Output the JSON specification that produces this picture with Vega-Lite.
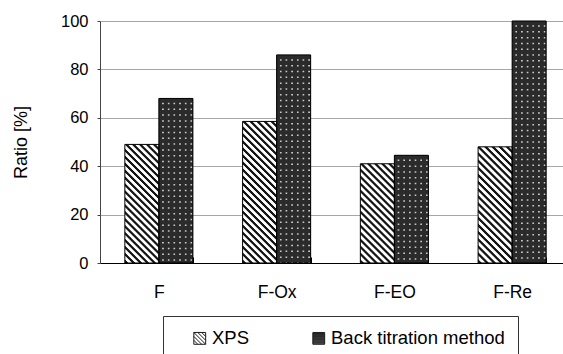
{
  "$schema": "https://vega.github.io/schema/vega-lite/v6.json",
  "autosize": {"type": "none"},
  "width": 463,
  "height": 242,
  "padding": {"left": 100, "top": 21, "right": 0, "bottom": 91},
  "background": "#ffffff",
  "config": {"font": "Liberation Sans", "view": {"stroke": null}},
  "data": {
    "values": [
      {"sample": "F", "method": "XPS", "ratio": 49},
      {"sample": "F", "method": "Back titration method", "ratio": 68},
      {"sample": "F-Ox", "method": "XPS", "ratio": 58.5},
      {"sample": "F-Ox", "method": "Back titration method", "ratio": 86},
      {"sample": "F-EO", "method": "XPS", "ratio": 41},
      {"sample": "F-EO", "method": "Back titration method", "ratio": 44.5},
      {"sample": "F-Re", "method": "XPS", "ratio": 48},
      {"sample": "F-Re", "method": "Back titration method", "ratio": 100}
    ]
  },
  "encoding": {
    "x": {
      "field": "sample", "type": "nominal", "sort": ["F", "F-Ox", "F-EO", "F-Re"],
      "scale": {"range": [0, 471], "paddingInner": 0.4222, "paddingOuter": 0.2111},
      "axis": {"title": null, "labelAngle": 0, "tickBand": "extent", "tickSize": -6, "tickColor": "#000", "domainColor": "#000", "labelPadding": 26, "labelFontSize": 17.5, "labelColor": "#000", "grid": false}
    },
    "xOffset": {
      "field": "method", "type": "nominal",
      "scale": {"domain": ["XPS", "Back titration method"], "paddingInner": 0, "paddingOuter": 0}
    },
    "y": {
      "field": "ratio", "type": "quantitative",
      "scale": {"domain": [0, 100], "nice": false},
      "axis": {"values": [0, 20, 40, 60, 80, 100], "title": "Ratio [%]", "grid": true, "gridColor": "#a6a6a6", "domainColor": "#444", "tickColor": "#444", "tickSize": 3, "labelPadding": 9, "labelFontSize": 16.5, "labelColor": "#000", "titleFontSize": 18, "titleFontWeight": "normal", "titleColor": "#000", "titlePadding": 30}
    }
  },
  "layer": [
    {
      "mark": {"type": "bar"},
      "encoding": {
        "fill": {
          "condition": [
            {"test": "datum.method === 'XPS' && datum.sample === 'F'", "value": {"gradient": "linear", "x1": 0, "y1": 1, "x2": 0.3409, "y2": -0.189, "stops": [
              {"offset": 0, "color": "#fff"}, {"offset": 0.0068, "color": "#151515"}, {"offset": 0.0205, "color": "#151515"}, {"offset": 0.0273, "color": "#fff"},
              {"offset": 0.0455, "color": "#fff"}, {"offset": 0.0523, "color": "#151515"}, {"offset": 0.0659, "color": "#151515"}, {"offset": 0.0727, "color": "#fff"},
              {"offset": 0.0909, "color": "#fff"}, {"offset": 0.0977, "color": "#151515"}, {"offset": 0.1114, "color": "#151515"}, {"offset": 0.1182, "color": "#fff"},
              {"offset": 0.1364, "color": "#fff"}, {"offset": 0.1432, "color": "#151515"}, {"offset": 0.1568, "color": "#151515"}, {"offset": 0.1636, "color": "#fff"},
              {"offset": 0.1818, "color": "#fff"}, {"offset": 0.1886, "color": "#151515"}, {"offset": 0.2023, "color": "#151515"}, {"offset": 0.2091, "color": "#fff"},
              {"offset": 0.2273, "color": "#fff"}, {"offset": 0.2341, "color": "#151515"}, {"offset": 0.2477, "color": "#151515"}, {"offset": 0.2545, "color": "#fff"},
              {"offset": 0.2727, "color": "#fff"}, {"offset": 0.2795, "color": "#151515"}, {"offset": 0.2932, "color": "#151515"}, {"offset": 0.3, "color": "#fff"},
              {"offset": 0.3182, "color": "#fff"}, {"offset": 0.325, "color": "#151515"}, {"offset": 0.3386, "color": "#151515"}, {"offset": 0.3455, "color": "#fff"},
              {"offset": 0.3636, "color": "#fff"}, {"offset": 0.3705, "color": "#151515"}, {"offset": 0.3841, "color": "#151515"}, {"offset": 0.3909, "color": "#fff"},
              {"offset": 0.4091, "color": "#fff"}, {"offset": 0.4159, "color": "#151515"}, {"offset": 0.4295, "color": "#151515"}, {"offset": 0.4364, "color": "#fff"},
              {"offset": 0.4545, "color": "#fff"}, {"offset": 0.4614, "color": "#151515"}, {"offset": 0.475, "color": "#151515"}, {"offset": 0.4818, "color": "#fff"},
              {"offset": 0.5, "color": "#fff"}, {"offset": 0.5068, "color": "#151515"}, {"offset": 0.5205, "color": "#151515"}, {"offset": 0.5273, "color": "#fff"},
              {"offset": 0.5455, "color": "#fff"}, {"offset": 0.5523, "color": "#151515"}, {"offset": 0.5659, "color": "#151515"}, {"offset": 0.5727, "color": "#fff"},
              {"offset": 0.5909, "color": "#fff"}, {"offset": 0.5977, "color": "#151515"}, {"offset": 0.6114, "color": "#151515"}, {"offset": 0.6182, "color": "#fff"},
              {"offset": 0.6364, "color": "#fff"}, {"offset": 0.6432, "color": "#151515"}, {"offset": 0.6568, "color": "#151515"}, {"offset": 0.6636, "color": "#fff"},
              {"offset": 0.6818, "color": "#fff"}, {"offset": 0.6886, "color": "#151515"}, {"offset": 0.7023, "color": "#151515"}, {"offset": 0.7091, "color": "#fff"},
              {"offset": 0.7273, "color": "#fff"}, {"offset": 0.7341, "color": "#151515"}, {"offset": 0.7477, "color": "#151515"}, {"offset": 0.7545, "color": "#fff"},
              {"offset": 0.7727, "color": "#fff"}, {"offset": 0.7795, "color": "#151515"}, {"offset": 0.7932, "color": "#151515"}, {"offset": 0.8, "color": "#fff"},
              {"offset": 0.8182, "color": "#fff"}, {"offset": 0.825, "color": "#151515"}, {"offset": 0.8386, "color": "#151515"}, {"offset": 0.8455, "color": "#fff"},
              {"offset": 0.8636, "color": "#fff"}, {"offset": 0.8705, "color": "#151515"}, {"offset": 0.8841, "color": "#151515"}, {"offset": 0.8909, "color": "#fff"},
              {"offset": 0.9091, "color": "#fff"}, {"offset": 0.9159, "color": "#151515"}, {"offset": 0.9295, "color": "#151515"}, {"offset": 0.9364, "color": "#fff"},
              {"offset": 0.9545, "color": "#fff"}, {"offset": 0.9614, "color": "#151515"}, {"offset": 0.975, "color": "#151515"}, {"offset": 0.9818, "color": "#fff"},
              {"offset": 1, "color": "#fff"}
            ]}},
            {"test": "datum.method === 'XPS' && datum.sample === 'F-Ox'", "value": {"gradient": "linear", "x1": 0, "y1": 1, "x2": 0.2816, "y2": -0.1725, "stops": [
              {"offset": 0, "color": "#fff"}, {"offset": 0.006, "color": "#151515"}, {"offset": 0.018, "color": "#151515"}, {"offset": 0.024, "color": "#fff"},
              {"offset": 0.04, "color": "#fff"}, {"offset": 0.046, "color": "#151515"}, {"offset": 0.058, "color": "#151515"}, {"offset": 0.064, "color": "#fff"},
              {"offset": 0.08, "color": "#fff"}, {"offset": 0.086, "color": "#151515"}, {"offset": 0.098, "color": "#151515"}, {"offset": 0.104, "color": "#fff"},
              {"offset": 0.12, "color": "#fff"}, {"offset": 0.126, "color": "#151515"}, {"offset": 0.138, "color": "#151515"}, {"offset": 0.144, "color": "#fff"},
              {"offset": 0.16, "color": "#fff"}, {"offset": 0.166, "color": "#151515"}, {"offset": 0.178, "color": "#151515"}, {"offset": 0.184, "color": "#fff"},
              {"offset": 0.2, "color": "#fff"}, {"offset": 0.206, "color": "#151515"}, {"offset": 0.218, "color": "#151515"}, {"offset": 0.224, "color": "#fff"},
              {"offset": 0.24, "color": "#fff"}, {"offset": 0.246, "color": "#151515"}, {"offset": 0.258, "color": "#151515"}, {"offset": 0.264, "color": "#fff"},
              {"offset": 0.28, "color": "#fff"}, {"offset": 0.286, "color": "#151515"}, {"offset": 0.298, "color": "#151515"}, {"offset": 0.304, "color": "#fff"},
              {"offset": 0.32, "color": "#fff"}, {"offset": 0.326, "color": "#151515"}, {"offset": 0.338, "color": "#151515"}, {"offset": 0.344, "color": "#fff"},
              {"offset": 0.36, "color": "#fff"}, {"offset": 0.366, "color": "#151515"}, {"offset": 0.378, "color": "#151515"}, {"offset": 0.384, "color": "#fff"},
              {"offset": 0.4, "color": "#fff"}, {"offset": 0.406, "color": "#151515"}, {"offset": 0.418, "color": "#151515"}, {"offset": 0.424, "color": "#fff"},
              {"offset": 0.44, "color": "#fff"}, {"offset": 0.446, "color": "#151515"}, {"offset": 0.458, "color": "#151515"}, {"offset": 0.464, "color": "#fff"},
              {"offset": 0.48, "color": "#fff"}, {"offset": 0.486, "color": "#151515"}, {"offset": 0.498, "color": "#151515"}, {"offset": 0.504, "color": "#fff"},
              {"offset": 0.52, "color": "#fff"}, {"offset": 0.526, "color": "#151515"}, {"offset": 0.538, "color": "#151515"}, {"offset": 0.544, "color": "#fff"},
              {"offset": 0.56, "color": "#fff"}, {"offset": 0.566, "color": "#151515"}, {"offset": 0.578, "color": "#151515"}, {"offset": 0.584, "color": "#fff"},
              {"offset": 0.6, "color": "#fff"}, {"offset": 0.606, "color": "#151515"}, {"offset": 0.618, "color": "#151515"}, {"offset": 0.624, "color": "#fff"},
              {"offset": 0.64, "color": "#fff"}, {"offset": 0.646, "color": "#151515"}, {"offset": 0.658, "color": "#151515"}, {"offset": 0.664, "color": "#fff"},
              {"offset": 0.68, "color": "#fff"}, {"offset": 0.686, "color": "#151515"}, {"offset": 0.698, "color": "#151515"}, {"offset": 0.704, "color": "#fff"},
              {"offset": 0.72, "color": "#fff"}, {"offset": 0.726, "color": "#151515"}, {"offset": 0.738, "color": "#151515"}, {"offset": 0.744, "color": "#fff"},
              {"offset": 0.76, "color": "#fff"}, {"offset": 0.766, "color": "#151515"}, {"offset": 0.778, "color": "#151515"}, {"offset": 0.784, "color": "#fff"},
              {"offset": 0.8, "color": "#fff"}, {"offset": 0.806, "color": "#151515"}, {"offset": 0.818, "color": "#151515"}, {"offset": 0.824, "color": "#fff"},
              {"offset": 0.84, "color": "#fff"}, {"offset": 0.846, "color": "#151515"}, {"offset": 0.858, "color": "#151515"}, {"offset": 0.864, "color": "#fff"},
              {"offset": 0.88, "color": "#fff"}, {"offset": 0.886, "color": "#151515"}, {"offset": 0.898, "color": "#151515"}, {"offset": 0.904, "color": "#fff"},
              {"offset": 0.92, "color": "#fff"}, {"offset": 0.926, "color": "#151515"}, {"offset": 0.938, "color": "#151515"}, {"offset": 0.944, "color": "#fff"},
              {"offset": 0.96, "color": "#fff"}, {"offset": 0.966, "color": "#151515"}, {"offset": 0.978, "color": "#151515"}, {"offset": 0.984, "color": "#fff"},
              {"offset": 1, "color": "#fff"}
            ]}},
            {"test": "datum.method === 'XPS' && datum.sample === 'F-EO'", "value": {"gradient": "linear", "x1": 0, "y1": 1, "x2": 0.4117, "y2": -0.2016, "stops": [
              {"offset": 0, "color": "#fff"}, {"offset": 0.0079, "color": "#151515"}, {"offset": 0.0237, "color": "#151515"}, {"offset": 0.0316, "color": "#fff"},
              {"offset": 0.0526, "color": "#fff"}, {"offset": 0.0605, "color": "#151515"}, {"offset": 0.0763, "color": "#151515"}, {"offset": 0.0842, "color": "#fff"},
              {"offset": 0.1053, "color": "#fff"}, {"offset": 0.1132, "color": "#151515"}, {"offset": 0.1289, "color": "#151515"}, {"offset": 0.1368, "color": "#fff"},
              {"offset": 0.1579, "color": "#fff"}, {"offset": 0.1658, "color": "#151515"}, {"offset": 0.1816, "color": "#151515"}, {"offset": 0.1895, "color": "#fff"},
              {"offset": 0.2105, "color": "#fff"}, {"offset": 0.2184, "color": "#151515"}, {"offset": 0.2342, "color": "#151515"}, {"offset": 0.2421, "color": "#fff"},
              {"offset": 0.2632, "color": "#fff"}, {"offset": 0.2711, "color": "#151515"}, {"offset": 0.2868, "color": "#151515"}, {"offset": 0.2947, "color": "#fff"},
              {"offset": 0.3158, "color": "#fff"}, {"offset": 0.3237, "color": "#151515"}, {"offset": 0.3395, "color": "#151515"}, {"offset": 0.3474, "color": "#fff"},
              {"offset": 0.3684, "color": "#fff"}, {"offset": 0.3763, "color": "#151515"}, {"offset": 0.3921, "color": "#151515"}, {"offset": 0.4, "color": "#fff"},
              {"offset": 0.4211, "color": "#fff"}, {"offset": 0.4289, "color": "#151515"}, {"offset": 0.4447, "color": "#151515"}, {"offset": 0.4526, "color": "#fff"},
              {"offset": 0.4737, "color": "#fff"}, {"offset": 0.4816, "color": "#151515"}, {"offset": 0.4974, "color": "#151515"}, {"offset": 0.5053, "color": "#fff"},
              {"offset": 0.5263, "color": "#fff"}, {"offset": 0.5342, "color": "#151515"}, {"offset": 0.55, "color": "#151515"}, {"offset": 0.5579, "color": "#fff"},
              {"offset": 0.5789, "color": "#fff"}, {"offset": 0.5868, "color": "#151515"}, {"offset": 0.6026, "color": "#151515"}, {"offset": 0.6105, "color": "#fff"},
              {"offset": 0.6316, "color": "#fff"}, {"offset": 0.6395, "color": "#151515"}, {"offset": 0.6553, "color": "#151515"}, {"offset": 0.6632, "color": "#fff"},
              {"offset": 0.6842, "color": "#fff"}, {"offset": 0.6921, "color": "#151515"}, {"offset": 0.7079, "color": "#151515"}, {"offset": 0.7158, "color": "#fff"},
              {"offset": 0.7368, "color": "#fff"}, {"offset": 0.7447, "color": "#151515"}, {"offset": 0.7605, "color": "#151515"}, {"offset": 0.7684, "color": "#fff"},
              {"offset": 0.7895, "color": "#fff"}, {"offset": 0.7974, "color": "#151515"}, {"offset": 0.8132, "color": "#151515"}, {"offset": 0.8211, "color": "#fff"},
              {"offset": 0.8421, "color": "#fff"}, {"offset": 0.85, "color": "#151515"}, {"offset": 0.8658, "color": "#151515"}, {"offset": 0.8737, "color": "#fff"},
              {"offset": 0.8947, "color": "#fff"}, {"offset": 0.9026, "color": "#151515"}, {"offset": 0.9184, "color": "#151515"}, {"offset": 0.9263, "color": "#fff"},
              {"offset": 0.9474, "color": "#fff"}, {"offset": 0.9553, "color": "#151515"}, {"offset": 0.9711, "color": "#151515"}, {"offset": 0.9789, "color": "#fff"},
              {"offset": 1, "color": "#fff"}
            ]}},
            {"test": "datum.method === 'XPS' && datum.sample === 'F-Re'", "value": {"gradient": "linear", "x1": 0, "y1": 1, "x2": 0.3485, "y2": -0.1907, "stops": [
              {"offset": 0, "color": "#fff"}, {"offset": 0.0071, "color": "#151515"}, {"offset": 0.0214, "color": "#151515"}, {"offset": 0.0286, "color": "#fff"},
              {"offset": 0.0476, "color": "#fff"}, {"offset": 0.0548, "color": "#151515"}, {"offset": 0.069, "color": "#151515"}, {"offset": 0.0762, "color": "#fff"},
              {"offset": 0.0952, "color": "#fff"}, {"offset": 0.1024, "color": "#151515"}, {"offset": 0.1167, "color": "#151515"}, {"offset": 0.1238, "color": "#fff"},
              {"offset": 0.1429, "color": "#fff"}, {"offset": 0.15, "color": "#151515"}, {"offset": 0.1643, "color": "#151515"}, {"offset": 0.1714, "color": "#fff"},
              {"offset": 0.1905, "color": "#fff"}, {"offset": 0.1976, "color": "#151515"}, {"offset": 0.2119, "color": "#151515"}, {"offset": 0.219, "color": "#fff"},
              {"offset": 0.2381, "color": "#fff"}, {"offset": 0.2452, "color": "#151515"}, {"offset": 0.2595, "color": "#151515"}, {"offset": 0.2667, "color": "#fff"},
              {"offset": 0.2857, "color": "#fff"}, {"offset": 0.2929, "color": "#151515"}, {"offset": 0.3071, "color": "#151515"}, {"offset": 0.3143, "color": "#fff"},
              {"offset": 0.3333, "color": "#fff"}, {"offset": 0.3405, "color": "#151515"}, {"offset": 0.3548, "color": "#151515"}, {"offset": 0.3619, "color": "#fff"},
              {"offset": 0.381, "color": "#fff"}, {"offset": 0.3881, "color": "#151515"}, {"offset": 0.4024, "color": "#151515"}, {"offset": 0.4095, "color": "#fff"},
              {"offset": 0.4286, "color": "#fff"}, {"offset": 0.4357, "color": "#151515"}, {"offset": 0.45, "color": "#151515"}, {"offset": 0.4571, "color": "#fff"},
              {"offset": 0.4762, "color": "#fff"}, {"offset": 0.4833, "color": "#151515"}, {"offset": 0.4976, "color": "#151515"}, {"offset": 0.5048, "color": "#fff"},
              {"offset": 0.5238, "color": "#fff"}, {"offset": 0.531, "color": "#151515"}, {"offset": 0.5452, "color": "#151515"}, {"offset": 0.5524, "color": "#fff"},
              {"offset": 0.5714, "color": "#fff"}, {"offset": 0.5786, "color": "#151515"}, {"offset": 0.5929, "color": "#151515"}, {"offset": 0.6, "color": "#fff"},
              {"offset": 0.619, "color": "#fff"}, {"offset": 0.6262, "color": "#151515"}, {"offset": 0.6405, "color": "#151515"}, {"offset": 0.6476, "color": "#fff"},
              {"offset": 0.6667, "color": "#fff"}, {"offset": 0.6738, "color": "#151515"}, {"offset": 0.6881, "color": "#151515"}, {"offset": 0.6952, "color": "#fff"},
              {"offset": 0.7143, "color": "#fff"}, {"offset": 0.7214, "color": "#151515"}, {"offset": 0.7357, "color": "#151515"}, {"offset": 0.7429, "color": "#fff"},
              {"offset": 0.7619, "color": "#fff"}, {"offset": 0.769, "color": "#151515"}, {"offset": 0.7833, "color": "#151515"}, {"offset": 0.7905, "color": "#fff"},
              {"offset": 0.8095, "color": "#fff"}, {"offset": 0.8167, "color": "#151515"}, {"offset": 0.831, "color": "#151515"}, {"offset": 0.8381, "color": "#fff"},
              {"offset": 0.8571, "color": "#fff"}, {"offset": 0.8643, "color": "#151515"}, {"offset": 0.8786, "color": "#151515"}, {"offset": 0.8857, "color": "#fff"},
              {"offset": 0.9048, "color": "#fff"}, {"offset": 0.9119, "color": "#151515"}, {"offset": 0.9262, "color": "#151515"}, {"offset": 0.9333, "color": "#fff"},
              {"offset": 0.9524, "color": "#fff"}, {"offset": 0.9595, "color": "#151515"}, {"offset": 0.9738, "color": "#151515"}, {"offset": 0.981, "color": "#fff"},
              {"offset": 1, "color": "#fff"}
            ]}}
          ],
          "value": {"gradient": "linear", "x1": 0, "y1": 0, "x2": 1, "y2": 0, "stops": [
            {"offset": 0, "color": "#2b2b2b"},
            {"offset": 0.0833, "color": "#2b2b2b"}, {"offset": 0.1083, "color": "#c8c8c8"}, {"offset": 0.1333, "color": "#c8c8c8"}, {"offset": 0.1583, "color": "#2b2b2b"},
            {"offset": 0.25, "color": "#2b2b2b"}, {"offset": 0.275, "color": "#c8c8c8"}, {"offset": 0.3, "color": "#c8c8c8"}, {"offset": 0.325, "color": "#2b2b2b"},
            {"offset": 0.4167, "color": "#2b2b2b"}, {"offset": 0.4417, "color": "#c8c8c8"}, {"offset": 0.4667, "color": "#c8c8c8"}, {"offset": 0.4917, "color": "#2b2b2b"},
            {"offset": 0.5833, "color": "#2b2b2b"}, {"offset": 0.6083, "color": "#c8c8c8"}, {"offset": 0.6333, "color": "#c8c8c8"}, {"offset": 0.6583, "color": "#2b2b2b"},
            {"offset": 0.75, "color": "#2b2b2b"}, {"offset": 0.775, "color": "#c8c8c8"}, {"offset": 0.8, "color": "#c8c8c8"}, {"offset": 0.825, "color": "#2b2b2b"},
            {"offset": 0.9167, "color": "#2b2b2b"}, {"offset": 0.9417, "color": "#c8c8c8"}, {"offset": 0.9667, "color": "#c8c8c8"}, {"offset": 0.9917, "color": "#2b2b2b"},
            {"offset": 1, "color": "#2b2b2b"}
          ]}
        }
      }
    },
    {
      "transform": [{"filter": "datum.method === 'Back titration method'"}],
      "mark": {"type": "rule", "stroke": "#2b2b2b", "strokeWidth": 34, "strokeDash": [4.3, 1.5], "strokeCap": "butt"},
      "encoding": {
        "y2": {"datum": 0}
      }
    },
    {
      "mark": {"type": "bar", "fill": "transparent", "stroke": "#000", "strokeWidth": 1}
    },
    {
      "mark": {"type": "point", "opacity": 0, "stroke": "#000", "filled": false},
      "encoding": {
        "shape": {
          "field": "method", "type": "nominal",
          "scale": {
            "domain": ["XPS", "Back titration method"],
            "range": [
              "M-1,-1H1V1H-1Z M-1,-1L1,1 M-0.33,-1L1,0.33 M0.33,-1L1,-0.33 M-1,-0.33L0.33,1 M-1,0.33L-0.33,1",
              "M-1,-1H1V1H-1Z M-1,-0.83H1 M-1,-0.67H1 M-1,-0.5H1 M-1,-0.33H1 M-1,-0.17H1 M-1,0H1 M-1,0.17H1 M-1,0.33H1 M-1,0.5H1 M-1,0.67H1 M-1,0.83H1"
            ]
          },
          "legend": {
            "title": " ", "titleOrient": "left", "titlePadding": 14.5, "titleFontSize": 16,
            "orient": "none", "legendX": 63, "legendY": 295, "direction": "horizontal",
            "padding": 13, "strokeColor": "#333", "fillColor": "#fff",
            "symbolSize": 140, "symbolStrokeColor": "#1a1a1a", "symbolStrokeWidth": 1, "symbolOpacity": 1, "symbolFillColor": "#fff",
            "labelFontSize": 18.5, "labelColor": "#000", "labelOffset": 3, "labelLimit": 300, "columnPadding": 60
          }
        }
      }
    }
  ]
}
